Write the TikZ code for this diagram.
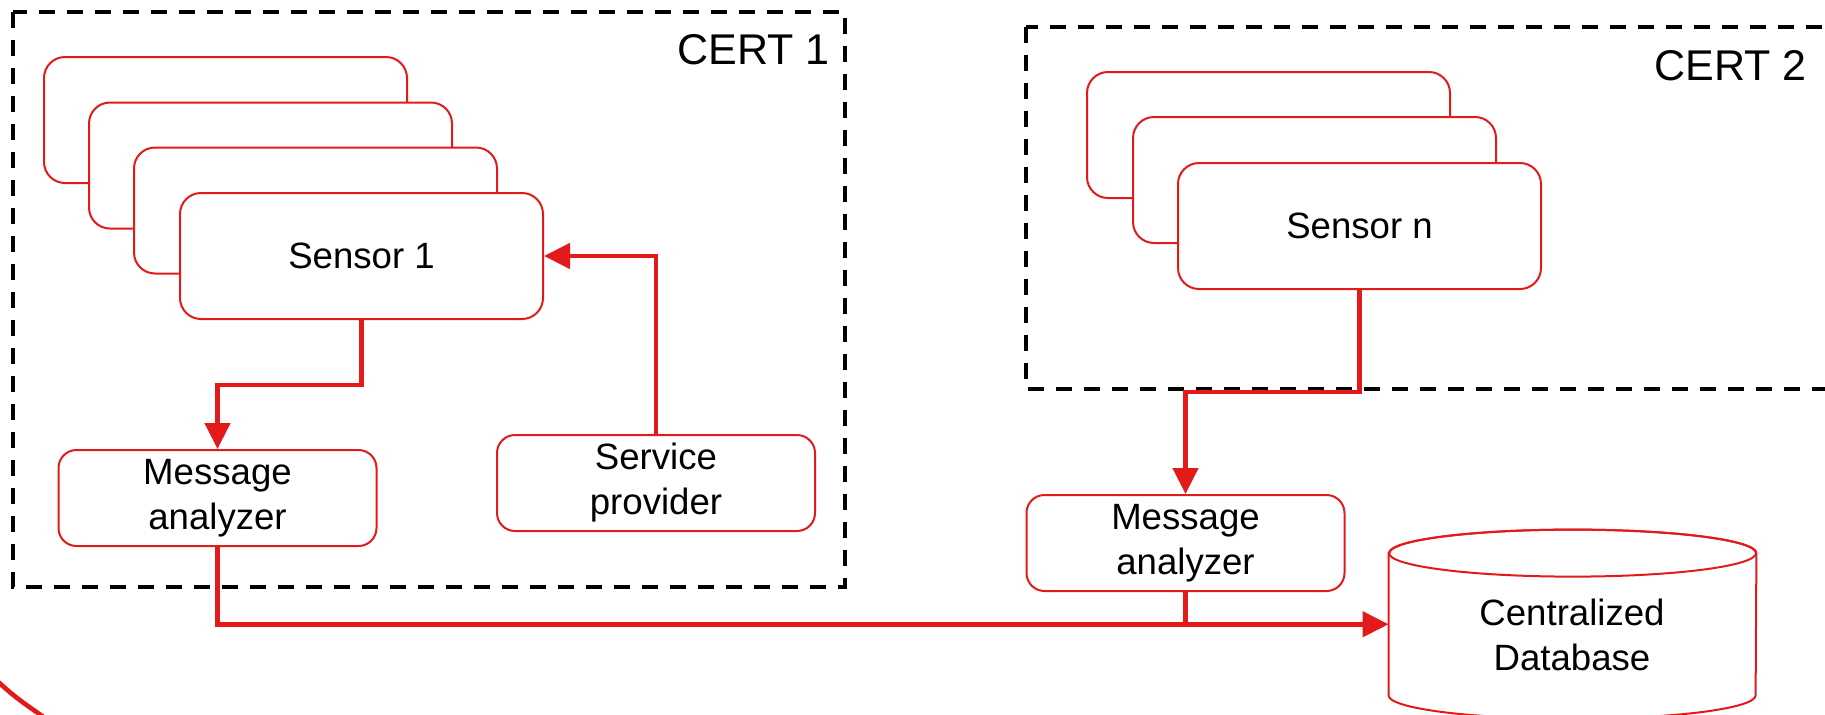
\documentclass[tikz,border=0pt]{standalone}
\usepackage{fontspec}
\setmainfont{Liberation Sans}
\usetikzlibrary{arrows.meta}
\definecolor{alarm}{RGB}{226,26,26}

\begin{document}
\begin{tikzpicture}[x=0.5pt,y=-0.5pt,
  frame/.style={draw=black,line width=2pt,dash pattern=on 8pt off 6pt},
  txt/.style={font=\fontsize{18.3pt}{22.5pt}\selectfont,align=center,text=black},
  card/.style={txt,draw=alarm,line width=1pt,fill=white,rounded corners=10.5pt,
    minimum width=181.5pt,minimum height=63pt,inner sep=0pt},
  unit/.style={txt,draw=alarm,line width=1pt,fill=white,rounded corners=9pt,
    minimum width=159pt,minimum height=48pt,inner sep=0pt},
  link/.style={draw=alarm,line width=2.3pt},
  feed/.style={link,-{Triangle[length=13pt,width=12.5pt]}},
  tag/.style={font=\fontsize{21.5pt}{25pt}\selectfont,inner sep=0pt,anchor=base east}]

\useasboundingbox (0,0) rectangle (1825,714);
\clip (0,0) rectangle (1825,714);

% CERT domains
\draw[frame] (13,12) rectangle (845,587);
\draw[frame] (1026,27) rectangle (1860,389);
\node[tag] (cert1) at (830,64) {CERT 1};
\node[tag] (cert2) at (1807,80) {CERT 2};

% sensor stack of CERT 1
\node[card] (s1a) at (225.5,120) {};
\node[card] (s1b) at (270.5,165.5) {};
\node[card] (s1c) at (315.5,210.5) {};
\node[card] (s1)  at (361.5,256) {Sensor 1};

% sensor stack of CERT 2
\node[card] (sna) at (1268.5,135) {};
\node[card] (snb) at (1314.5,180) {};
\node[card] (sn)  at (1359.5,226) {Sensor n};

% analyzers and provider
\node[unit] (ma1) at (217.5,498) {Message\\analyzer};
\node[unit] (sp)  at (656,483) {Service\\provider};
\node[unit] (ma2) at (1185.5,543) {Message\\analyzer};

% centralized database (cylinder)
\node[inner sep=0pt,minimum width=183.5pt,minimum height=70.75pt] (db) at (1572.5,624.25) {};
\filldraw[draw=alarm,fill=white,line width=1pt]
  (db.north west) -- (db.south west)
  arc[start angle=180,end angle=360,x radius=91.75pt,y radius=11.75pt]
  -- (db.north east)
  arc[start angle=0,end angle=180,x radius=91.75pt,y radius=11.75pt] -- cycle;
\draw[draw=alarm,line width=1pt] (db.north) ellipse[x radius=91.75pt,y radius=11.75pt];
\node[txt,inner sep=0pt] (dbl) at (1572,634.5) {Centralized\\Database};

% connectors
\coordinate (k1) at (0,385);
\coordinate (k2) at (0,392);
\draw[feed] (s1.south) |- (ma1.north |- k1) -- (ma1.north);
\draw[feed] (sp.north) |- (s1.east);
\draw[feed] (sn.south) |- (ma2.north |- k2) -- (ma2.north);
\draw[feed] (ma1.south) |- (db.west);
\draw[link] (ma2.south) -- (ma2.south |- db.west);

% outer boundary arc
\draw[link] (-5,679) .. controls (15,697) .. (45,718);
\end{tikzpicture}
\end{document}
